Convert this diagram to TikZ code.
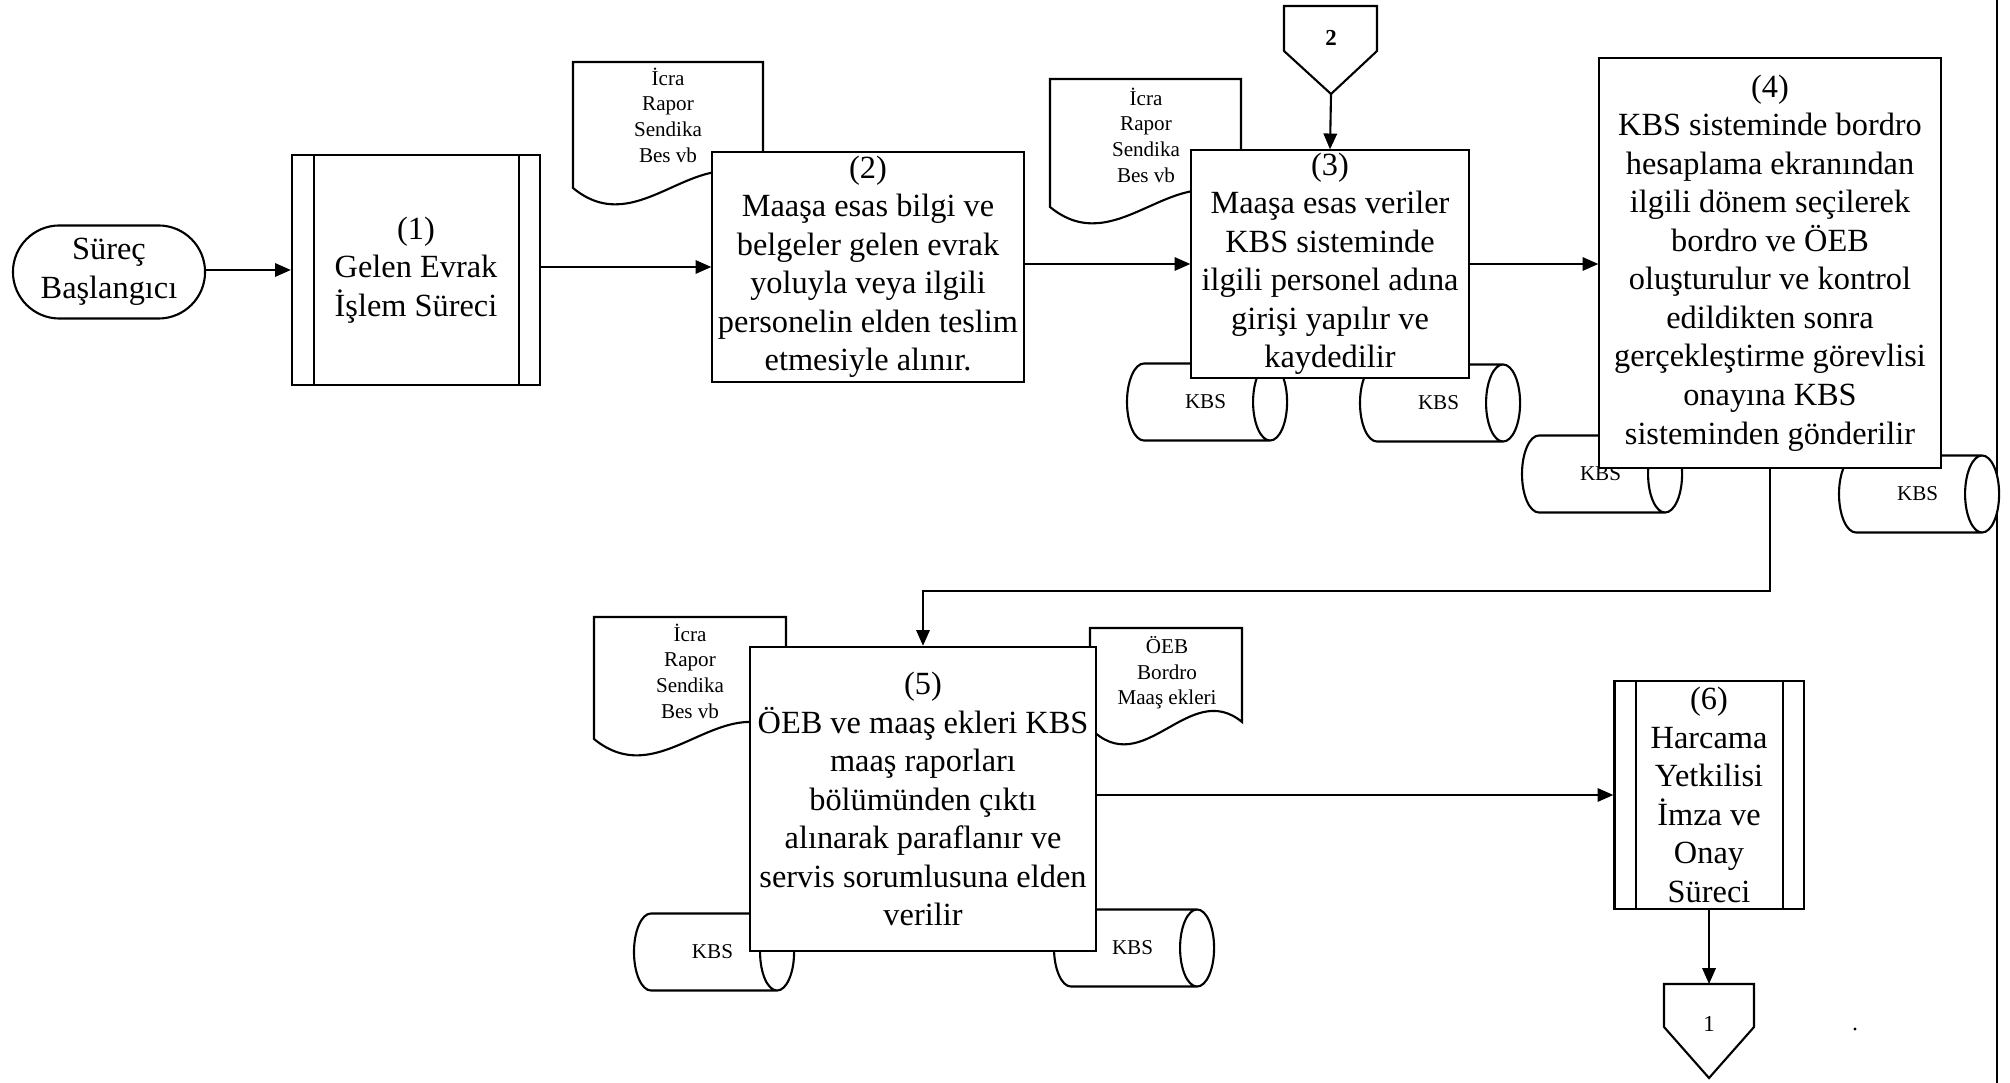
\documentclass[tikz,border=0pt]{standalone}
\usepackage{fontspec}
\setmainfont{Liberation Serif}
\usetikzlibrary{shapes.geometric,shapes.misc,arrows.meta}
\newcommand{\docoutline}[4]{% x0, ytop, x1, ycorner
  \draw[ln,fill=white] (#1,#2) -- (#3,#2) -- (#3,{#4-6})
    .. controls ({#1+0.65*(#3-#1)},{#4-50}) and ({#1+0.35*(#3-#1)},{#4+55}) .. (#1,#4) -- cycle;}
\newcommand{\kbslabel}{\hspace*{0.15cm}KBS}
\begin{document}
\begin{tikzpicture}[x=0.01cm,y=-0.01cm,
  ln/.style={line width=0.6pt},
  arr/.style={ln,-{Triangle[length=4.5pt,width=3.8pt]}},
  bigfont/.style={font=\fontsize{9.2}{10.95}\selectfont},
  proc/.style={draw,ln,fill=white,rectangle,inner sep=0pt,align=center,bigfont},
  term/.style={draw,ln,fill=white,rounded rectangle,inner sep=0pt,align=center,bigfont},
  kbs/.style={draw,ln,fill=white,cylinder,aspect=2.4,inner sep=0pt,
    minimum height=1.60cm,minimum width=0.77cm,font=\fontsize{6}{7}\selectfont},
  doctext/.style={align=center,inner sep=0pt,font=\fontsize{6}{7.3}\selectfont},
  conntext/.style={inner sep=0pt,font=\fontsize{6.5}{7}\selectfont}]
\useasboundingbox (0,0) rectangle (2010,1083);

% page edge line
\draw[ln] (1997,0) -- (1997,1083);

% documents
\docoutline{573}{62}{763}{188}
\node[doctext] (d1) at (668,115) {İcra\\Rapor\\Sendika\\Bes vb};
\docoutline{1050}{79}{1241}{207}
\node[doctext] (d2) at (1146,135) {İcra\\Rapor\\Sendika\\Bes vb};
\docoutline{594}{617}{786}{739}
\node[doctext] (d3) at (690,671) {İcra\\Rapor\\Sendika\\Bes vb};
\docoutline{1090}{628}{1242}{728}
\node[doctext] (d4) at (1167,673) {ÖEB\\Bordro\\Maaş ekleri};

% databases
\node[kbs] (k1) at (1198,402) {\kbslabel};
\node[kbs] (k2) at (1431,403) {\kbslabel};
\node[kbs] (k3) at (1593,474) {\kbslabel};
\node[kbs] (k4) at (1910,494) {\kbslabel};
\node[kbs] (k5) at (705,952) {\kbslabel};
\node[kbs] (k6) at (1125,948) {\kbslabel};

% off-page connectors
\draw[ln,fill=white] (1284,6) -- (1377,6) -- (1377,51) -- (1331,94) -- (1284,51) -- cycle;
\node[conntext] (c2) at (1331,38) {\textbf{2}};
\coordinate (c2tip) at (1331,94);
\draw[ln,fill=white] (1664,984) -- (1754,984) -- (1754,1027) -- (1709,1078) -- (1664,1027) -- cycle;
\node[conntext] (c1) at (1709,1024) {1};
\coordinate (c1top) at (1709,984);

% terminal
\node[term,minimum width=1.92cm,minimum height=0.93cm] (t0) at (109,272) {Süreç\\Başlangıcı};

% processes
\node[proc,minimum width=2.48cm,minimum height=2.29cm] (b1) at (416,270) {(1)\\Gelen Evrak\\İşlem Süreci};
\draw[ln] ([xshift=0.23cm]b1.north west) -- ([xshift=0.23cm]b1.south west);
\draw[ln] ([xshift=-0.22cm]b1.north east) -- ([xshift=-0.22cm]b1.south east);

\node[proc,minimum width=3.11cm,minimum height=2.29cm] (b2) at (868,267) {(2)\\Maaşa esas bilgi ve\\belgeler gelen evrak\\yoluyla veya ilgili\\personelin elden teslim\\etmesiyle alınır.};

\node[proc,minimum width=2.77cm,minimum height=2.27cm] (b3) at (1330,264) {(3)\\Maaşa esas veriler\\KBS sisteminde\\ilgili personel adına\\girişi yapılır ve\\kaydedilir};

\node[proc,minimum width=3.41cm,minimum height=4.10cm] (b4) at (1770,263) {(4)\\KBS sisteminde bordro\\hesaplama ekranından\\ilgili dönem seçilerek\\bordro ve ÖEB\\oluşturulur ve kontrol\\edildikten sonra\\gerçekleştirme görevlisi\\onayına KBS\\sisteminden gönderilir};

\node[proc,minimum width=3.45cm,minimum height=3.04cm] (b5) at (923,799) {(5)\\ÖEB ve maaş ekleri KBS\\maaş raporları\\bölümünden çıktı\\alınarak paraflanır ve\\servis sorumlusuna elden\\verilir};

\node[proc,minimum width=1.89cm,minimum height=2.28cm] (b6) at (1709,795) {(6)\\Harcama\\Yetkilisi\\İmza ve\\Onay\\Süreci};
\draw[ln] ([xshift=0.23cm]b6.north west) -- ([xshift=0.23cm]b6.south west);
\draw[ln] ([xshift=-0.22cm]b6.north east) -- ([xshift=-0.22cm]b6.south east);

% connectors
\draw[arr] (b1.west -| t0.east) -- (b1.west);
\draw[arr] (b2.west -| b1.east) -- (b2.west);
\draw[arr] (b2.east |- b3.west) -- (b3.west);
\draw[arr] (c2tip) -- (b3.north);
\draw[arr] (b3.east) -- (b3.east -| b4.west);
\draw[arr] (b4.south) -- ++(0,122) -| (b5.north);
\draw[arr] (b6.west -| b5.east) -- (b6.west);
\draw[arr] (b6.south) -- (c1top);

% stray dot
\fill (1855,1029) circle (1.6);
\end{tikzpicture}
\end{document}
